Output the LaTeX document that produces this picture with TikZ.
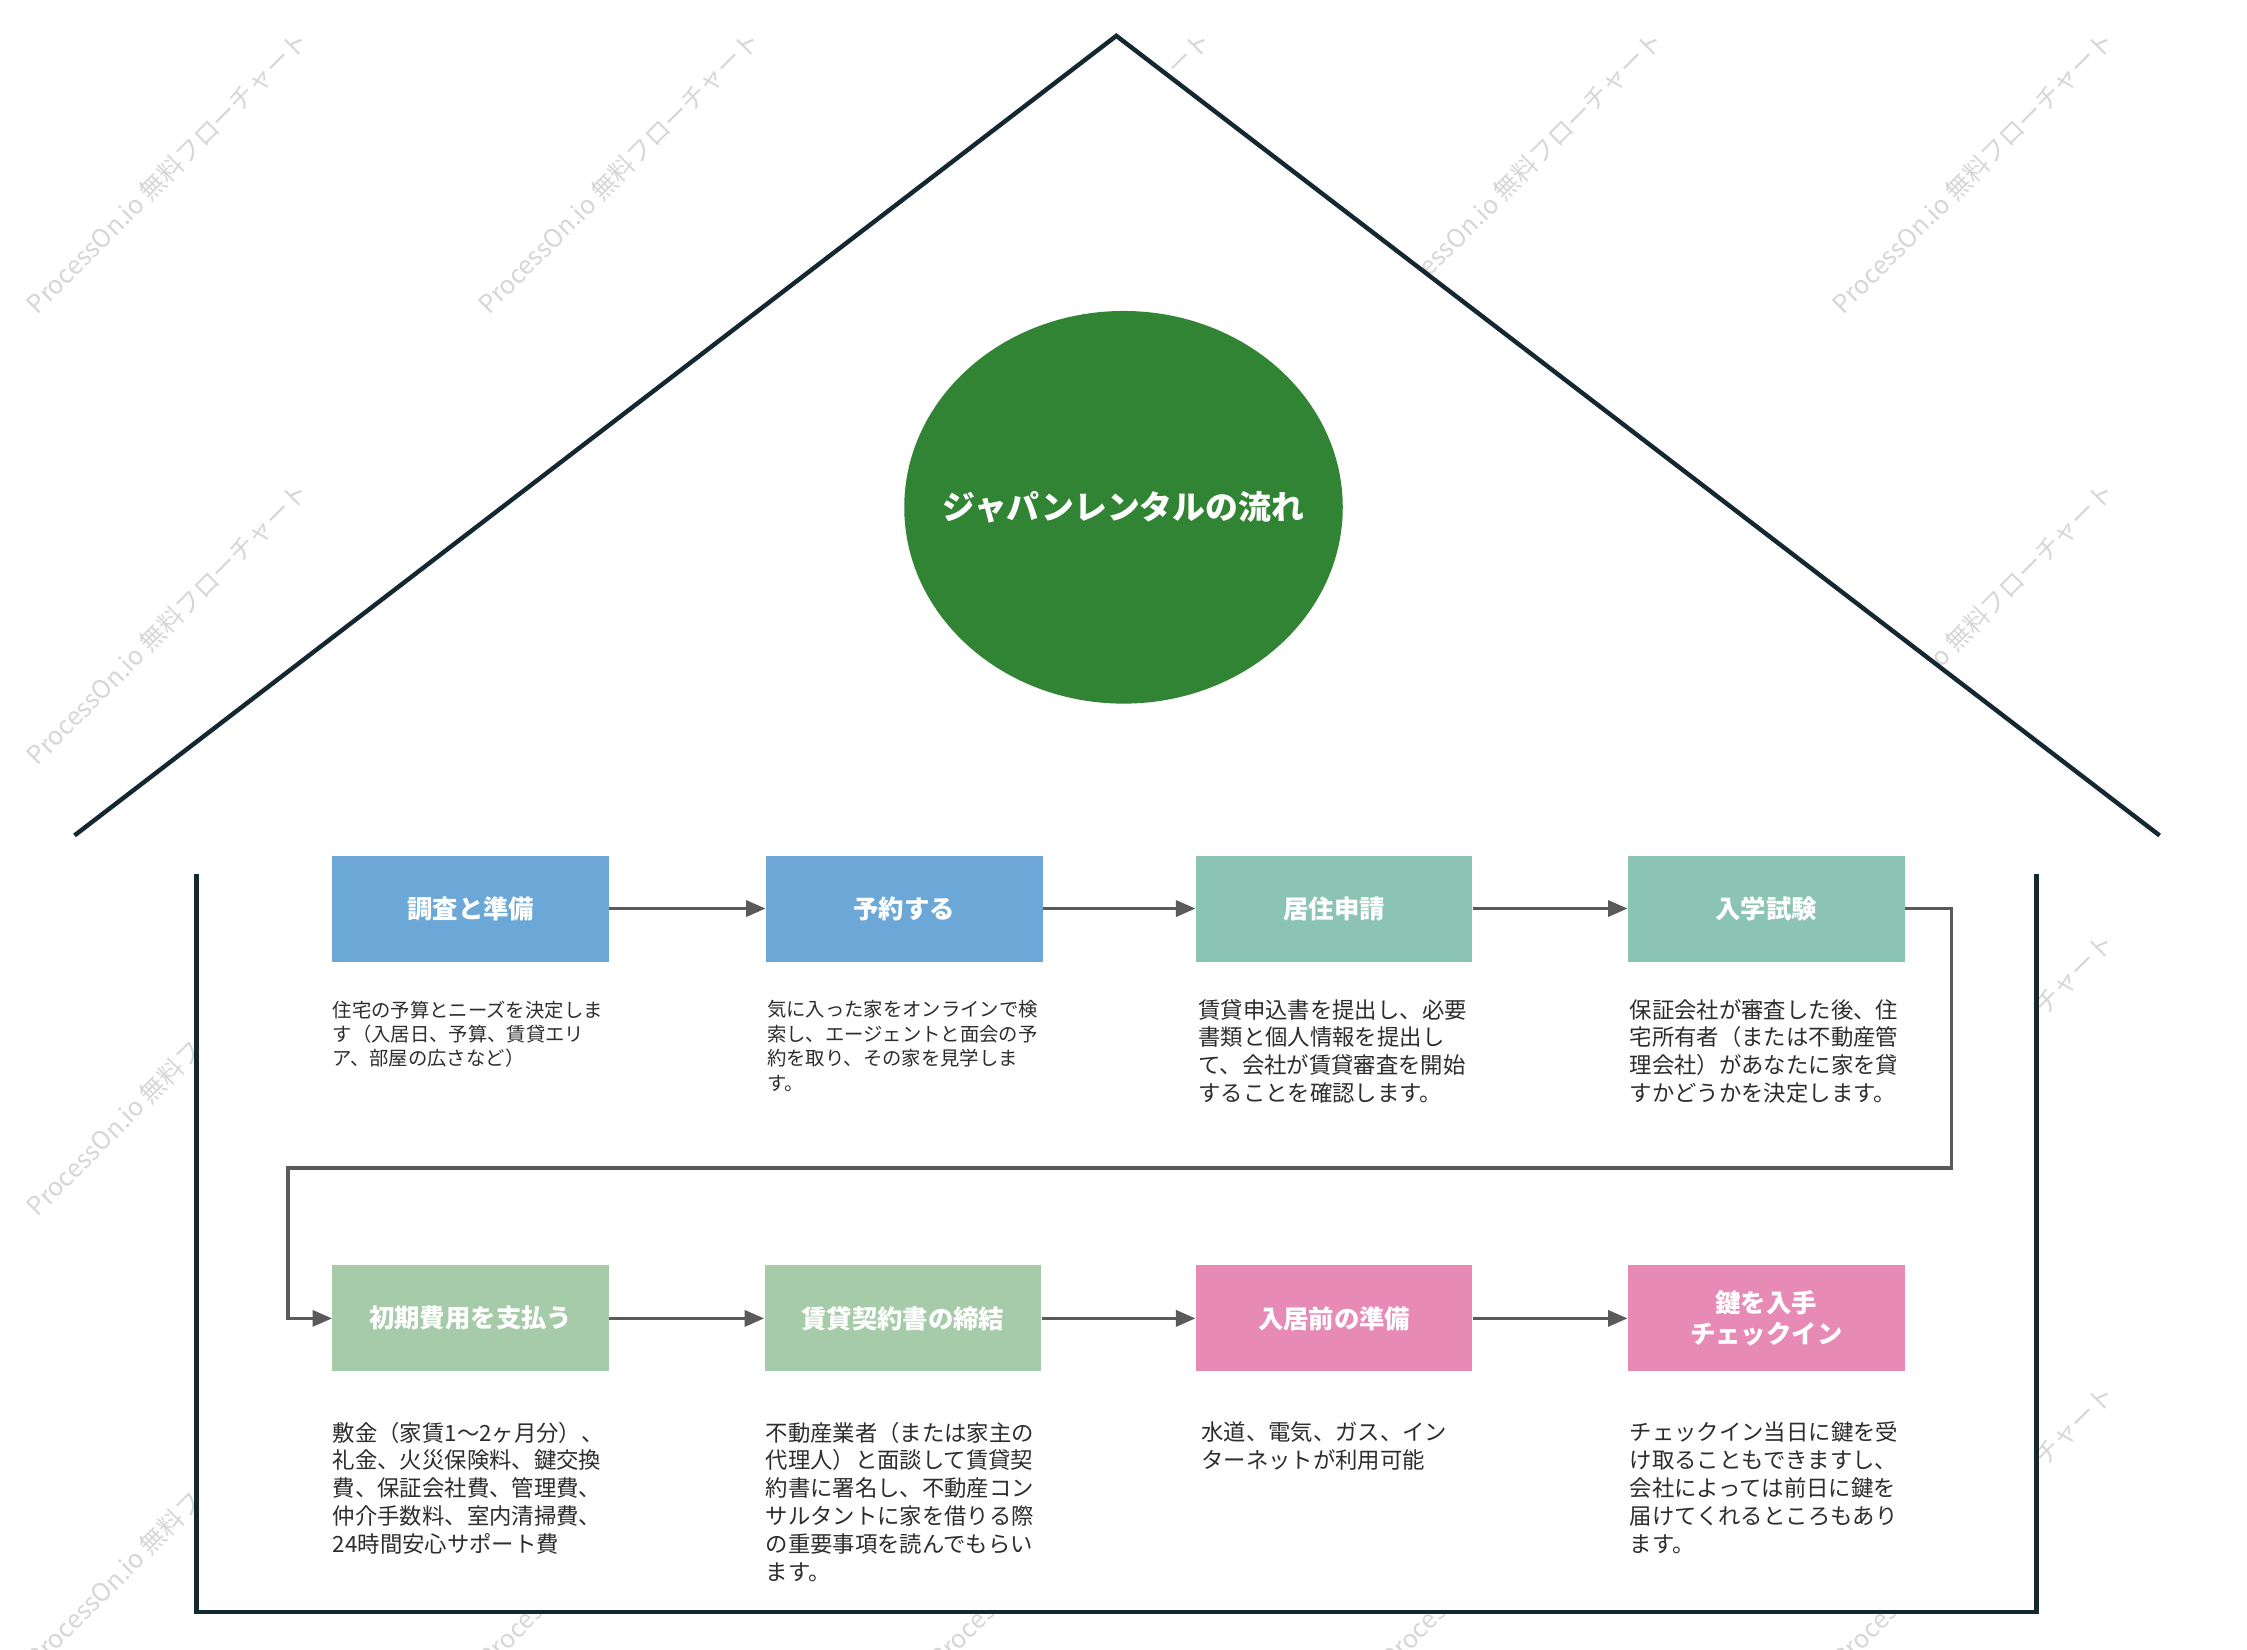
\documentclass[tikz,border=0pt]{standalone}
\usepackage{fontspec}
\setmainfont{Noto Sans CJK JP}
\usetikzlibrary{arrows.meta,shapes.geometric}
\definecolor{figB}{RGB}{107,168,216}
\definecolor{figT}{RGB}{139,196,178}
\definecolor{figL}{RGB}{166,203,168}
\definecolor{figP}{RGB}{231,139,182}
\definecolor{figG}{RGB}{49,132,52}
\definecolor{figH}{RGB}{20,40,50}
\definecolor{figA}{RGB}{90,90,90}
\definecolor{figD}{RGB}{45,45,45}

\begin{document}
\begin{tikzpicture}[x=0.25mm,y=-0.25mm,
  box/.style={fill=#1,minimum width=48.25mm,minimum height=18.5mm,inner sep=0pt,text=white,align=center,font=\fontsize{12.6}{15.6}\selectfont\bfseries},
  desc/.style={anchor=north west,inner sep=0pt,align=left,text=figD,font=\fontsize{11.1}{13.8}\selectfont},
  descsmall/.style={desc,font=\fontsize{9.6}{12.1}\selectfont},
  flow/.style={draw=figA,line width=1.6pt,-{Triangle[length=3.4mm,width=2.8mm]}},
  wall/.style={draw=figH,line width=2.2pt,line join=miter},
  wmark/.style={rotate=45,text=black!16,font=\fontsize{12.5}{12.5}\selectfont}]
\useasboundingbox (0,0) rectangle (1568,1151);
\foreach \i in {0,...,4} {\foreach \j in {0,...,3} {\node[wmark] (w\i\j) at (117+315*\i,120+315*\j) {ProcessOn.io 無料フローチャート};}}
\fill[white] (52,583) -- (779,25) -- (1507,583) -- cycle; \fill[white] (137,583) rectangle (1421,1125);
\draw[wall] (52,583) -- (779,25) -- (1507,583);
\draw[wall] (137,610) -- (137,1125) -- (1421,1125) -- (1421,610);
\node[ellipse,fill=figG,inner sep=0pt,minimum width=76.5mm,minimum height=68.5mm] (circ) at (784,354) {};
\node[text=white,font=\fontsize{16.3}{16.3}\selectfont\bfseries] (title) at (circ.center) {ジャパンレンタルの流れ};

\node[box=figB] (b1) at (328.5,634) {調査と準備};
\node[box=figB] (b2) at (631,634) {予約する};
\node[box=figT] (b3) at (931,634) {居住申請};
\node[box=figT] (b4) at (1232.5,634) {入学試験};
\node[box=figL] (b5) at (328.5,920) {初期費用を支払う};
\node[box=figL] (b6) at (630,920) {賃貸契約書の締結};
\node[box=figP] (b7) at (931,920) {入居前の準備};
\node[box=figP] (b8) at (1232.5,920) {鍵を入手\\チェックイン};

\coordinate (t1) at (1362,815); \coordinate (t2) at (201,815);
\draw[flow] (b1) -- (b2); \draw[flow] (b2) -- (b3); \draw[flow] (b3) -- (b4);
\draw[flow] (b4.east) -| (t1) -- (t2) |- (b5.west);
\draw[flow] (b5) -- (b6); \draw[flow] (b6) -- (b7); \draw[flow] (b7) -- (b8);

\node[descsmall] (d1) at (232,698) {住宅の予算とニーズを決定しま\\す（入居日、予算、賃貸エリ\\ア、部屋の広さなど）};
\node[descsmall] (d2) at (535,698) {気に入った家をオンラインで検\\索し、エージェントと面会の予\\約を取り、その家を見学しま\\す。};
\node[desc] (d3) at (836,697) {賃貸申込書を提出し、必要\\書類と個人情報を提出し\\て、会社が賃貸審査を開始\\することを確認します。};
\node[desc] (d4) at (1137,697) {保証会社が審査した後、住\\宅所有者（または不動産管\\理会社）があなたに家を貸\\すかどうかを決定します。};
\node[desc] (d5) at (232,992) {敷金（家賃1～2ヶ月分）、\\礼金、火災保険料、鍵交換\\費、保証会社費、管理費、\\仲介手数料、室内清掃費、\\24時間安心サポート費};
\node[desc] (d6) at (534,992) {不動産業者（または家主の\\代理人）と面談して賃貸契\\約書に署名し、不動産コン\\サルタントに家を借りる際\\の重要事項を読んでもらい\\ます。};
\node[desc] (d7) at (838,992) {水道、電気、ガス、イン\\ターネットが利用可能};
\node[desc] (d8) at (1137,992) {チェックイン当日に鍵を受\\け取ることもできますし、\\会社によっては前日に鍵を\\届けてくれるところもあり\\ます。};
\end{tikzpicture}
\end{document}
